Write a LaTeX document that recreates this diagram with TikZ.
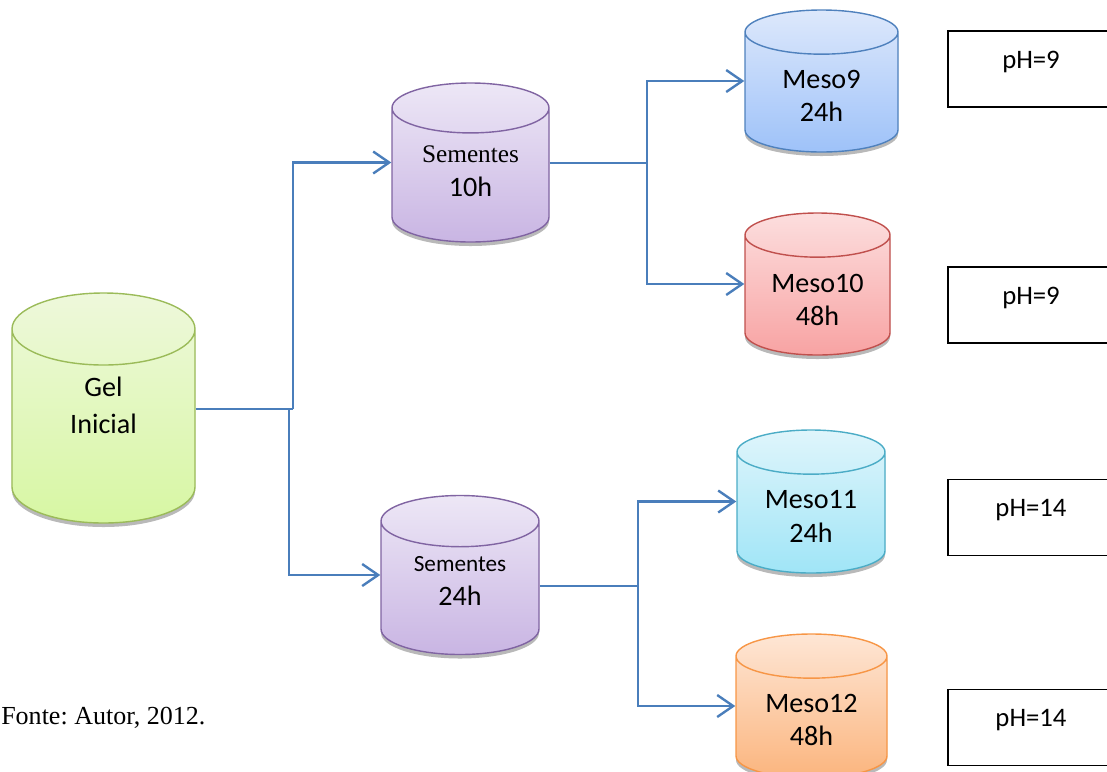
\documentclass[tikz,border=0pt]{standalone}
\usepackage{fontspec}
\setmainfont{Carlito}
\newfontfamily\timesfont{Liberation Serif}
\frenchspacing
\usetikzlibrary{shapes.geometric,arrows.meta,shadows,positioning}

\definecolor{flowblue}{HTML}{4A7EBB}
\definecolor{gelline}{HTML}{9BBB59}
\definecolor{geltop}{HTML}{EEF8DB}
\definecolor{gelbot}{HTML}{D7F7A3}
\definecolor{seedline}{HTML}{8064A2}
\definecolor{seedtop}{HTML}{EDE7F6}
\definecolor{seedbot}{HTML}{C9B5E3}
\definecolor{blueline}{HTML}{4F81BD}
\definecolor{bluetop}{HTML}{DDE8FB}
\definecolor{bluebot}{HTML}{9EC2F9}
\definecolor{redline}{HTML}{C0504D}
\definecolor{redtop}{HTML}{FCDEDE}
\definecolor{redbot}{HTML}{F8A3A3}
\definecolor{cyanline}{HTML}{4BACC6}
\definecolor{cyantop}{HTML}{DFF5FB}
\definecolor{cyanbot}{HTML}{A0E5F7}
\definecolor{orangeline}{HTML}{F79646}
\definecolor{orangetop}{HTML}{FEE6D5}
\definecolor{orangebot}{HTML}{FBB57E}

\begin{document}
\begin{tikzpicture}[x=0.25mm, y=-0.25mm,
      tank/.style n args={3}{cylinder, shape border rotate=90, anchor=shape center, inner sep=8mm,
        draw=#1, line width=1pt, top color=#2, bottom color=#3,
        drop shadow={shadow xshift=0pt, shadow yshift=-1mm, opacity=0.5, fill=black!55}},
      tanktext/.style={align=center, inner sep=0pt, font=\fontsize{20}{24}\selectfont},
      phbox/.style={rectangle, draw, line width=1.2pt, minimum width=41.5mm, minimum height=19mm,
        font=\fontsize{19}{23}\selectfont, text height=4.5mm, text depth=4.8mm},
      flow/.style={draw=flowblue, line width=1.7pt},
      >={Straight Barb[length=4mm, width=5.5mm]},
      ]
      \clip (0,0) rectangle (1107,771);

      % reservoirs
      \node[tank={gelline}{geltop}{gelbot}, minimum width=45.75mm, minimum height=57.5mm, aspect=1.125]
        (gel) at (103.5,408) {};
      \node[tank={seedline}{seedtop}{seedbot}, minimum width=39.25mm, minimum height=39.75mm, aspect=0.78]
        (seed10) at (470.5,162.5) {};
      \node[tank={seedline}{seedtop}{seedbot}, minimum width=39.5mm, minimum height=39.75mm, aspect=0.8]
        (seed24) at (460,575) {};
      \node[tank={blueline}{bluetop}{bluebot}, minimum width=38.25mm, minimum height=35.5mm, aspect=0.69]
        (meso9) at (821.5,81) {};
      \node[tank={redline}{redtop}{redbot}, minimum width=36.25mm, minimum height=35.5mm, aspect=0.69]
        (meso10) at (817.5,284) {};
      \node[tank={cyanline}{cyantop}{cyanbot}, minimum width=37mm, minimum height=35.75mm, aspect=0.69]
        (meso11) at (811,501.5) {};
      \node[tank={orangeline}{orangetop}{orangebot}, minimum width=37.75mm, minimum height=36mm, aspect=0.69]
        (meso12) at (811.5,706) {};

      % their contents
      \node[tanktext, font=\fontsize{20}{26}\selectfont] (geltext) at ([yshift=0.7mm]gel.shape center) {Gel\\Inicial};
      \node[tanktext] (seed10text) at ([yshift=-2.1mm]seed10.shape center)
        {{\timesfont\fontsize{18}{22}\selectfont Sementes}\\10h};
      \node[tanktext] (seed24text) at ([yshift=-1.5mm]seed24.shape center)
        {{\fontsize{16.5}{22}\selectfont Sementes}\\24h};
      \node[tanktext] (meso9text) at ([yshift=-3.7mm]meso9.shape center) {Meso9\\24h};
      \node[tanktext] (meso10text) at ([yshift=-4mm]meso10.shape center) {Meso10\\48h};
      \node[tanktext] (meso11text) at ([yshift=-3.7mm]meso11.shape center) {Meso11\\24h};
      \node[tanktext] (meso12text) at ([yshift=-3.5mm]meso12.shape center) {Meso12\\48h};

      % pH boxes
      \node[phbox] (ph9a) at (1031,69) {pH=9};
      \node[phbox] (ph9b) at (1031,305) {pH=9};
      \node[phbox] (ph14a) at (1031,517.5) {pH=14};
      \node[phbox] (ph14b) at (1031,727.5) {pH=14};

      \node[anchor=base west, inner sep=0pt, font=\timesfont\fontsize{18.5}{22}\selectfont] (src) at (1,724) {Fonte: Autor, 2012.};

      % branch points
      \node[coordinate] (fork1) at (293,409) {};
      \node[coordinate, left=1mm of fork1] (fork1b) {};
      \node[coordinate] (fork2) at (647,163) {};
      \node[coordinate] (fork3) at (638,586) {};

      \draw[flow] (gel.east |- fork1) -- (fork1);
      \draw[flow, ->] (fork1) |- (seed10.west |- seed10.shape center);
      \draw[flow, ->] (fork1b) |- (seed24.west |- seed24.shape center);

      \draw[flow] (seed10.east |- fork2) -- (fork2);
      \draw[flow, ->] (fork2) |- (meso9.west |- meso9.shape center);
      \draw[flow, ->] (fork2) |- (meso10.west |- meso10.shape center);

      \draw[flow] (seed24.east |- fork3) -- (fork3);
      \draw[flow, ->] (fork3) |- (meso11.west |- meso11.shape center);
      \draw[flow, ->] (fork3) |- (meso12.west |- meso12.shape center);
    \end{tikzpicture}
\end{document}
